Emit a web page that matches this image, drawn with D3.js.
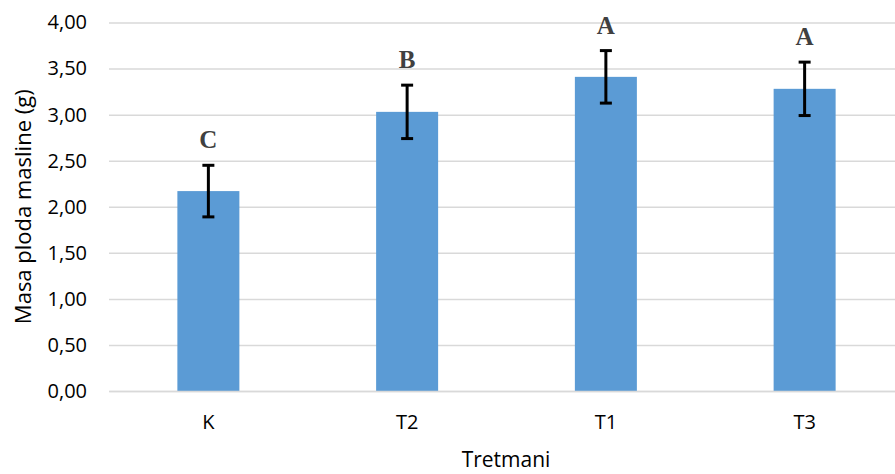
<!DOCTYPE html>
<html>
<head>
<meta charset="utf-8">
<script src="https://cdn.jsdelivr.net/npm/d3@7"></script>
<style>
  body { margin: 0; background: #fff; }
  svg { display: block; }
</style>
</head>
<body>
<svg id="chart"></svg>
<script>
const treatments = ["K", "T2", "T1", "T3"];
const meanMass = [2.17, 3.03, 3.41, 3.28];
const errorMass = [0.28, 0.29, 0.285, 0.29];
const groupLetters = ["C", "B", "A", "A"];
const yTicks = [0, 0.5, 1, 1.5, 2, 2.5, 3, 3.5, 4];

const WIDTH = 895;
const HEIGHT = 474;
const PLOT = { left: 109, right: 904, top: 22.5, bottom: 391 };
const BAR_WIDTH = 62;
const CAP = 12;
const FONT = "'Open Sans', sans-serif";

const dataset = treatments.map((t, i) => ({
  name: t,
  value: meanMass[i],
  err: errorMass[i],
  letter: groupLetters[i],
}));

const svg = d3.select("#chart").attr("width", WIDTH).attr("height", HEIGHT);

const xScale = d3.scaleBand().domain(treatments).range([PLOT.left, PLOT.right]);
const yScale = d3.scaleLinear().domain([0, 4]).range([PLOT.bottom, PLOT.top]);

const fmt = (d) => d.toFixed(2).replace(".", ",");

// gridlines + y labels
const yAxis = svg
  .append("g")
  .attr("transform", "translate(" + PLOT.left + ",0)")
  .call(
    d3.axisLeft(yScale)
      .tickValues(yTicks)
      .tickFormat(fmt)
      .tickSize(-(PLOT.right - PLOT.left))
      .tickPadding(22)
  );
yAxis.select(".domain").remove();
yAxis.selectAll(".tick line").attr("stroke", "#d9d9d9").attr("stroke-width", 1.5);
yAxis
  .selectAll(".tick text")
  .attr("fill", "#000")
  .style("font-family", FONT)
  .style("font-size", "20px");

// bars
svg
  .append("g")
  .selectAll("rect")
  .data(dataset)
  .enter()
  .append("rect")
  .attr("x", (d) => xScale(d.name) + (xScale.bandwidth() - BAR_WIDTH) / 2)
  .attr("y", (d) => yScale(d.value))
  .attr("width", BAR_WIDTH)
  .attr("height", (d) => yScale(0) - yScale(d.value))
  .attr("fill", "#5b9bd5");

// x axis
const xAxis = svg
  .append("g")
  .attr("transform", "translate(0," + PLOT.bottom + ")")
  .call(d3.axisBottom(xScale).tickSize(0).tickPadding(24));
xAxis.select(".domain").attr("stroke", "#d9d9d9").attr("stroke-width", 1.5);
xAxis
  .selectAll(".tick text")
  .attr("fill", "#000")
  .style("font-family", FONT)
  .style("font-size", "20px");

// error bars
const eb = svg
  .append("g")
  .attr("stroke", "#000")
  .attr("stroke-width", 3)
  .selectAll("g")
  .data(dataset)
  .enter()
  .append("g");
const cx = (d) => xScale(d.name) + xScale.bandwidth() / 2;
eb.append("line")
  .attr("x1", cx).attr("x2", cx)
  .attr("y1", (d) => yScale(d.value + d.err))
  .attr("y2", (d) => yScale(d.value - d.err));
eb.append("line")
  .attr("x1", (d) => cx(d) - CAP / 2).attr("x2", (d) => cx(d) + CAP / 2)
  .attr("y1", (d) => yScale(d.value + d.err))
  .attr("y2", (d) => yScale(d.value + d.err));
eb.append("line")
  .attr("x1", (d) => cx(d) - CAP / 2).attr("x2", (d) => cx(d) + CAP / 2)
  .attr("y1", (d) => yScale(d.value - d.err))
  .attr("y2", (d) => yScale(d.value - d.err));

// group letters
svg
  .append("g")
  .selectAll("text")
  .data(dataset)
  .enter()
  .append("text")
  .attr("x", cx)
  .attr("y", (d) => yScale(d.value + d.err) - 17)
  .attr("text-anchor", "middle")
  .attr("fill", "#404040")
  .style("font-family", "'Liberation Serif', 'Times New Roman', serif")
  .style("font-weight", "bold")
  .style("font-size", "25px")
  .text((d) => d.letter);

// axis titles
svg
  .append("text")
  .attr("transform", "translate(31," + (PLOT.top + PLOT.bottom) / 2 + ") rotate(-90)")
  .attr("text-anchor", "middle")
  .attr("fill", "#000")
  .style("font-family", FONT)
  .style("font-size", "22px")
  .text("Masa ploda masline (g)");

svg
  .append("text")
  .attr("x", 506)
  .attr("y", 467)
  .attr("text-anchor", "middle")
  .attr("fill", "#000")
  .style("font-family", FONT)
  .style("font-size", "21px")
  .text("Tretmani");
</script>
</body>
</html>
